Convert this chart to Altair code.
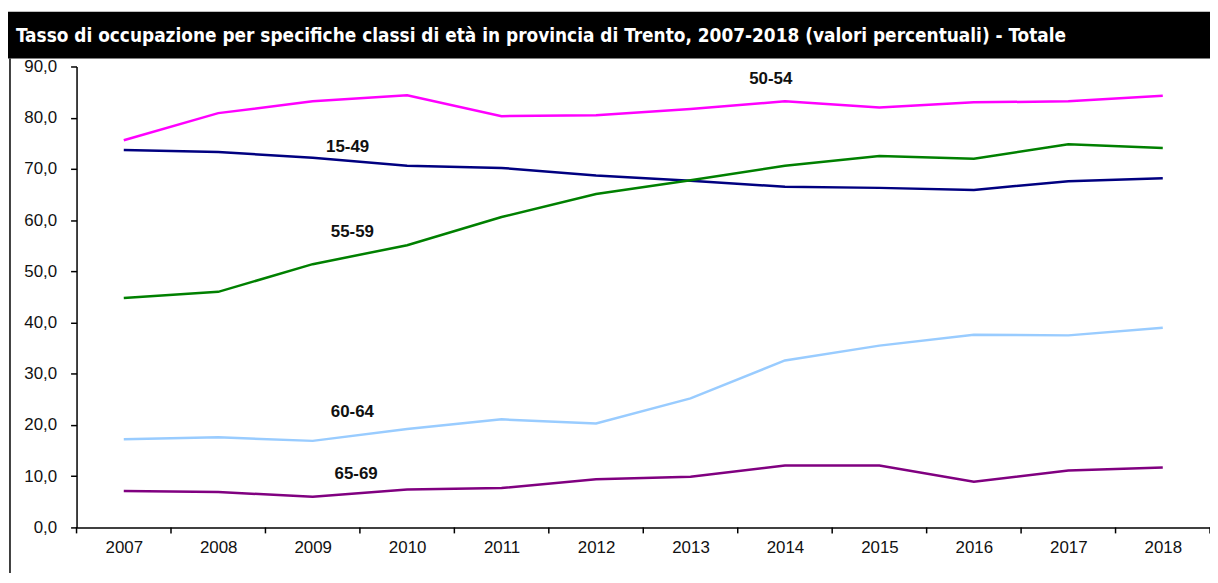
import altair as alt
import pandas as pd

years = [2007, 2008, 2009, 2010, 2011, 2012, 2013, 2014, 2015, 2016, 2017, 2018]
s_50_54 = [75.6, 80.9, 83.2, 84.4, 80.3, 80.5, 81.7, 83.2, 82.0, 83.0, 83.2, 84.3]
s_15_49 = [73.7, 73.3, 72.2, 70.6, 70.2, 68.7, 67.7, 66.5, 66.3, 65.9, 67.6, 68.2]
s_55_59 = [44.8, 46.0, 51.4, 55.1, 60.6, 65.1, 67.8, 70.6, 72.5, 72.0, 74.8, 74.1]
s_60_64 = [17.2, 17.6, 16.9, 19.2, 21.1, 20.3, 25.2, 32.6, 35.5, 37.6, 37.5, 39.0]
s_65_69 = [7.1, 6.9, 6.0, 7.4, 7.7, 9.4, 9.9, 12.1, 12.1, 8.9, 11.1, 11.7]

series_names = ["50-54", "15-49", "55-59", "60-64", "65-69"]
series_values = [s_50_54, s_15_49, s_55_59, s_60_64, s_65_69]
series_colors = ["#FF00FF", "#000080", "#008000", "#99CCFF", "#800080"]

label_x = [2013.85, 2009.37, 2009.42, 2009.42, 2009.46]
label_y = [87.5, 74.3, 57.6, 22.5, 10.5]

y_ticks = [0, 10, 20, 30, 40, 50, 60, 70, 80, 90]
title_text = "Tasso di occupazione per specifiche classi di età in provincia di Trento, 2007-2018  (valori percentuali) - Totale"

W, H = 1141, 464
FONT = "Liberation Sans"

rows = []
for name, vals in zip(series_names, series_values):
    for yr, v in zip(years, vals):
        rows.append({"anno": yr, "valore": v, "classe": name})
df = pd.DataFrame(rows)

labels_df = pd.DataFrame({"classe": series_names, "x": label_x, "y": label_y})
bounds_df = pd.DataFrame({"b": [y - 0.5 for y in years] + [years[-1] + 0.5]})
title_df = pd.DataFrame({"t": [title_text]})

xscale = alt.Scale(domain=[years[0] - 0.5, years[-1] + 0.5], nice=False, zero=False)
yscale = alt.Scale(domain=[0, 90], nice=False)
cscale = alt.Scale(domain=series_names, range=series_colors)

lines = alt.Chart(df).mark_line(strokeWidth=2.5).encode(
    x=alt.X("anno:Q", scale=xscale, title=None,
            axis=alt.Axis(values=years, format="d", ticks=False, domain=True,
                          domainColor="#000", domainWidth=1.5, grid=False,
                          labelFont=FONT, labelFontSize=17, labelColor="#111",
                          labelPadding=12)),
    y=alt.Y("valore:Q", scale=yscale, title=None,
            axis=alt.Axis(values=y_ticks, grid=False, domainColor="#000", domainWidth=1.5,
                          tickColor="#000", tickSize=6, tickWidth=1.5,
                          labelExpr="replace(format(datum.value, '.1f'), '.', ',')",
                          labelFont=FONT, labelFontSize=17, labelColor="#111",
                          labelPadding=14)),
    color=alt.Color("classe:N", scale=cscale, legend=None),
    detail="classe:N",
)

xticks = alt.Chart(bounds_df).mark_rule(color="#000", strokeWidth=1.5).encode(
    x=alt.X("b:Q", scale=xscale),
    y=alt.value(H),
    y2=alt.value(H + 6),
)

texts = alt.Chart(labels_df).mark_text(font=FONT, fontSize=17, fontWeight="bold",
                                       color="#111", align="center", baseline="middle").encode(
    x=alt.X("x:Q", scale=xscale),
    y=alt.Y("y:Q", scale=yscale),
    text="classe:N",
)

bar = alt.Chart(title_df).mark_rect(color="#000").encode(
    x=alt.value(-69), x2=alt.value(W), y=alt.value(-55), y2=alt.value(-8)
)
title = alt.Chart(title_df).mark_text(
    font="'Liberation Sans Narrow', 'DejaVu Sans Condensed', 'Liberation Sans', sans-serif",
    fontSize=19, fontWeight="bold", color="#fff", align="left", baseline="middle"
).encode(x=alt.value(-61), y=alt.value(-31), text="t:N")
border = alt.Chart(title_df).mark_rule(color="#000", strokeWidth=1.5).encode(
    x=alt.value(-67), y=alt.value(-8), y2=alt.value(H + 46)
)

chart = alt.layer(bar, title, border, lines, xticks, texts).properties(
    width=W, height=H,
    padding={"left": 69, "top": 57, "right": 0, "bottom": 44},
    autosize=alt.AutoSizeParams(type="none"),
).configure_view(stroke=None)

chart.save("out.html", embed_options={"renderer": "svg", "actions": False})
